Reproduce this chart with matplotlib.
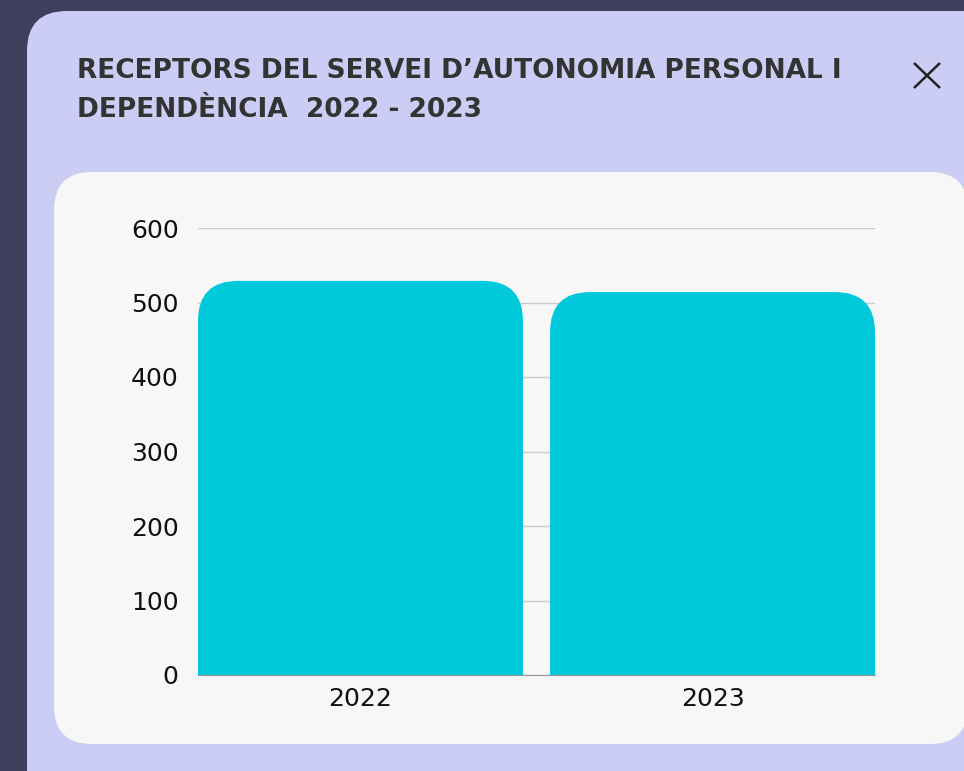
import matplotlib.pyplot as plt
from matplotlib.patches import FancyBboxPatch

# dades
anys = ['2022', '2023']
receptors = [529, 514]
y_ticks = [0, 100, 200, 300, 400, 500, 600]
titol_1 = 'RECEPTORS DEL SERVEI D\u2019AUTONOMIA PERSONAL I'
titol_2 = 'DEPEND\u00c8NCIA  2022 - 2023'

W, H = 964, 771
fig = plt.figure(figsize=(W / 100, H / 100), dpi=100, facecolor='#3f3f5d')

# fons en pixels
bg = fig.add_axes([0, 0, 1, 1])
bg.set_xlim(0, W)
bg.set_ylim(H, 0)
bg.axis('off')
bg.add_patch(FancyBboxPatch((27, 11), 990, 820, boxstyle='round,pad=0,rounding_size=40',
                            fc='#cccdf4', ec='none'))
bg.add_patch(FancyBboxPatch((54, 172), 914, 572, boxstyle='round,pad=0,rounding_size=38',
                            fc='#f7f7f7', ec='none'))
bg.text(77, 78, titol_1, fontsize=19, fontweight='bold', color='#333333', va='baseline')
bg.text(77, 117, titol_2, fontsize=19, fontweight='bold', color='#333333', va='baseline')
# creu de tancar
bg.plot([914, 940], [63, 88], color='#222222', lw=1.8, solid_capstyle='butt')
bg.plot([914, 940], [88, 63], color='#222222', lw=1.8, solid_capstyle='butt')

# grafic
ax_l, ax_r, ax_t, ax_b = 198, 875, 228, 675
ax = fig.add_axes([ax_l / W, (H - ax_b) / H, (ax_r - ax_l) / W, (ax_b - ax_t) / H])
ax.set_facecolor('none')

w = 0.923
x = list(range(len(anys)))
ax.set_xlim(-w / 2, len(anys) - 1 + w / 2)
ax.set_ylim(0, 600)

px_x = (ax_r - ax_l) / (len(anys) - 1 + w)
px_y = (ax_b - ax_t) / 600
r_px = 40
r_x = r_px / px_x
asp = px_x / px_y
for xi, v in zip(x, receptors):
    r_y = r_x * asp
    ax.add_patch(FancyBboxPatch((xi - w / 2, -2 * r_y), w, v + 2 * r_y,
                                boxstyle=f'round,pad=0,rounding_size={r_x}',
                                mutation_aspect=asp, fc='#00c9db', ec='none', zorder=2))

ax.set_yticks(y_ticks)
ax.set_xticks(x)
ax.set_xticklabels(anys)
ax.yaxis.grid(True, color='#cccccc', lw=1)
ax.set_axisbelow(True)
for s in ['top', 'right', 'left']:
    ax.spines[s].set_visible(False)
ax.spines['bottom'].set_color('#999999')
ax.tick_params(axis='y', length=0, pad=14, labelsize=18, labelcolor='#111111')
ax.tick_params(axis='x', length=0, pad=9, labelsize=18, labelcolor='#111111')

fig.savefig('out.png', dpi=100, facecolor=fig.get_facecolor())
